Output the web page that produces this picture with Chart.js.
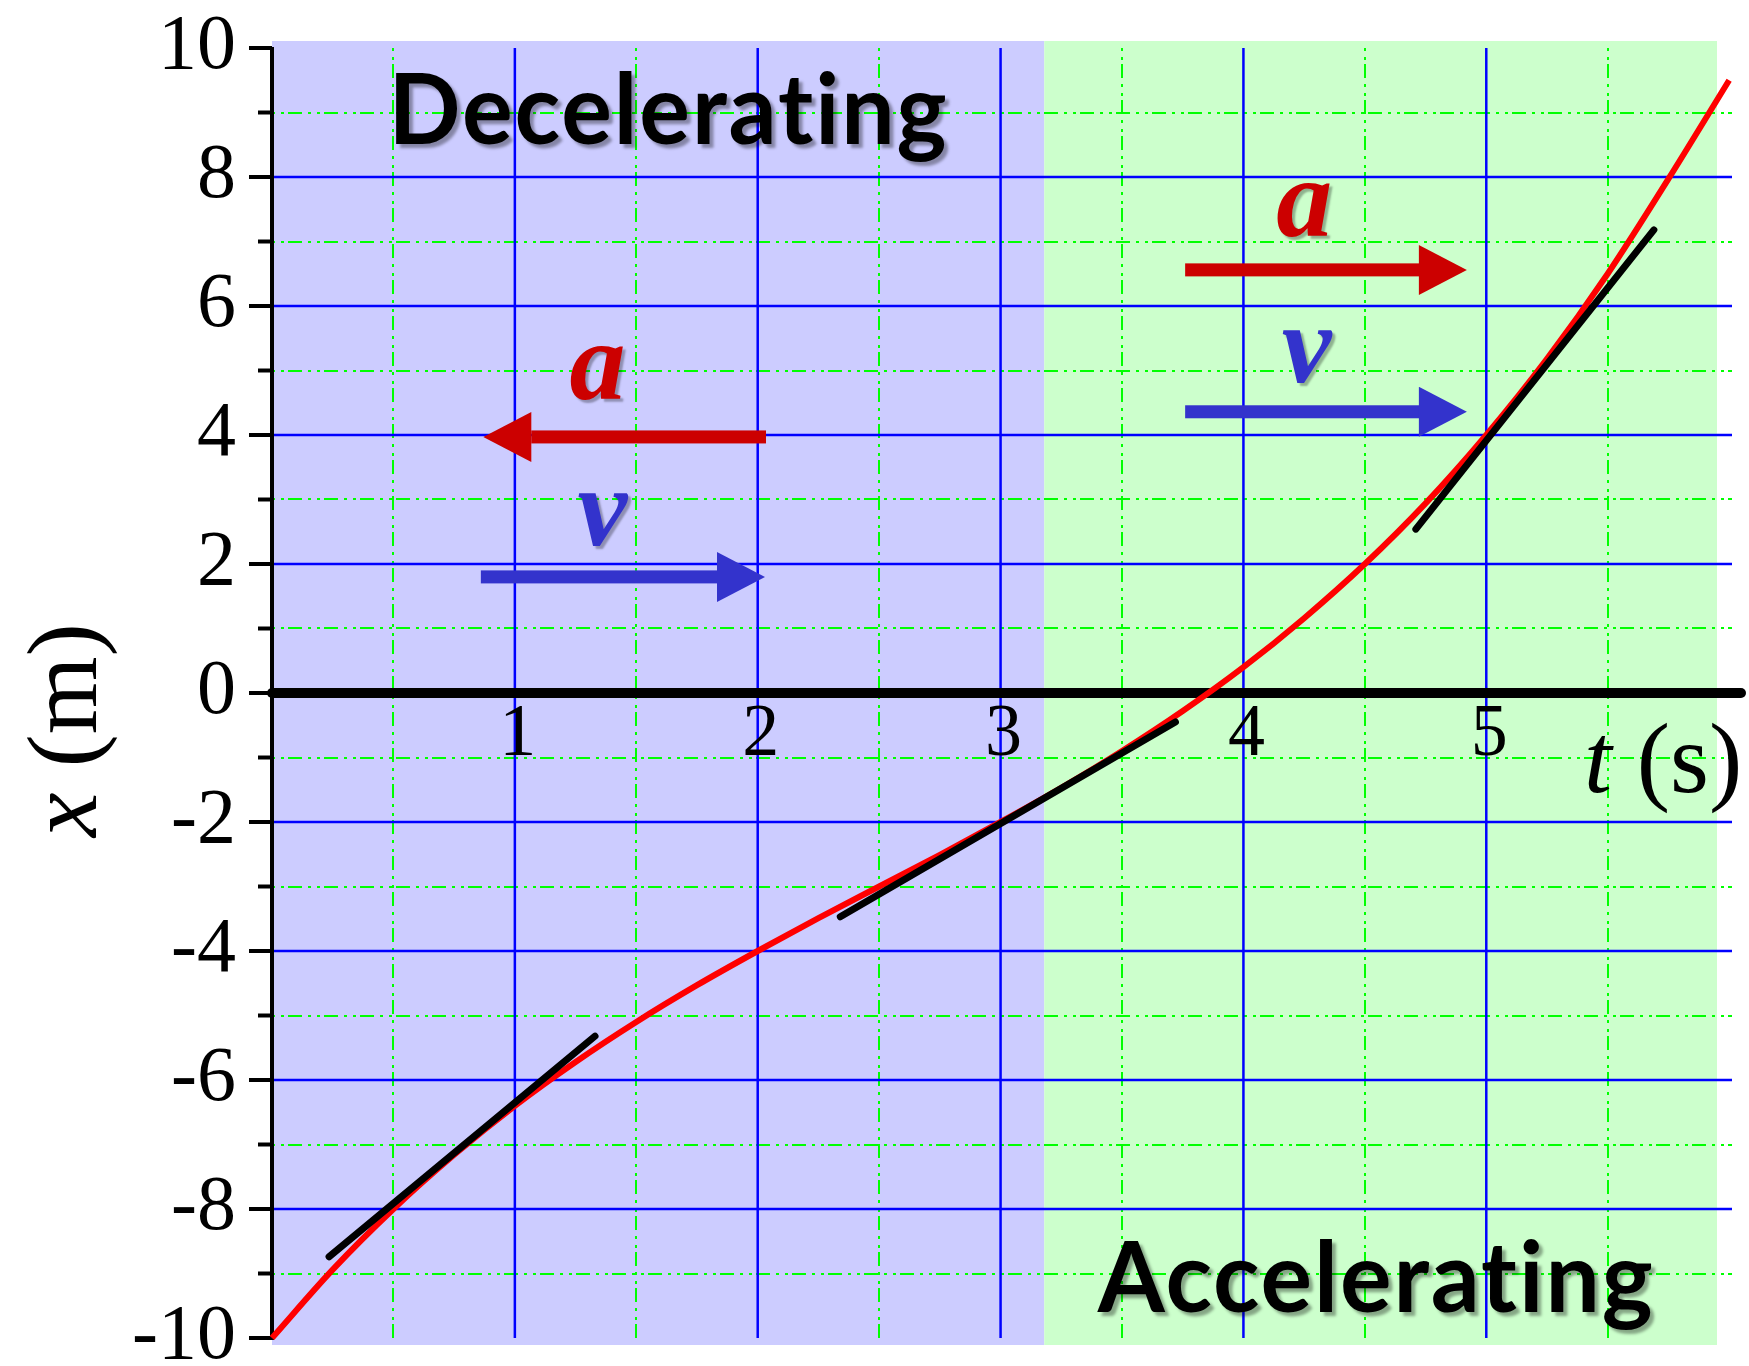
<!DOCTYPE html>
<html>
<head>
<meta charset="utf-8">
<title>Position vs time</title>
<script src="https://cdn.jsdelivr.net/npm/chart.js@4.4.1/dist/chart.umd.min.js"></script>
<style>
  html, body { margin: 0; padding: 0; background: #fff; }
  #wrap { width: 1749px; height: 1366px; }
</style>
</head>
<body>
<div id="wrap"><canvas id="xtChart" width="1749" height="1366"></canvas></div>
<script>
// x(t) curve, values
const times = [0, 0.25, 0.5, 0.75, 1, 1.25, 1.5, 1.75, 2, 2.25, 2.5, 2.75, 3,
               3.25, 3.5, 3.75, 4, 4.25, 4.5, 4.75, 5, 5.25, 5.5, 5.75, 6];
const positions = [-10, -8.94, -8.0, -7.16, -6.4, -5.72, -5.1, -4.53, -4.0, -3.49, -3.0, -2.51, -2.0,
                   -1.47, -0.9, -0.28, 0.4, 1.16, 2.0, 2.94, 4.0, 5.18, 6.5, 7.97, 9.5];

// tangent segments (t and x of both ends)
const tangent1T = [0.235, 1.33];
const tangent1X = [-8.74, -5.32];
const tangent2T = [2.34, 3.72];
const tangent2X = [-3.47, -0.45];
const tangent3T = [4.71, 5.69];
const tangent3X = [2.54, 7.18];

// axes
const yTicks = [-10, -8, -6, -4, -2, 0, 2, 4, 6, 8, 10];
const yMinorTicks = [-9, -7, -5, -3, -1, 1, 3, 5, 7, 9];
const xTicks = [1, 2, 3, 4, 5];
const xTickLabels = ['1', '2', '3', '4', '5'];
const xMinorTicks = [0.5, 1.5, 2.5, 3.5, 4.5, 5.5];
const regionSplit = 3.18; // where decelerating turns to accelerating

const serif = '"Liberation Serif", "Times New Roman", serif';

// annotation layout, in data units
const arrows = [
  { from: [2.03, 3.97], to: [0.87, 3.97], color: '#cc0000' },
  { from: [0.86, 1.80], to: [2.03, 1.80], color: '#3333cc' },
  { from: [3.76, 6.56], to: [4.92, 6.56], color: '#cc0000' },
  { from: [3.76, 4.36], to: [4.92, 4.36], color: '#3333cc' }
];
const arrowLabels = [
  { text: 'a', t: 1.34, x: 4.56, color: '#cc0000' },
  { text: 'v', t: 1.36, x: 2.29, color: '#3333cc' },
  { text: 'a', t: 4.25, x: 7.09, color: '#cc0000' },
  { text: 'v', t: 4.26, x: 4.82, color: '#3333cc' }
];
const regionLabels = [
  { text: 'Decelerating', t: 0.48, x: 8.51, width: 560 },
  { text: 'Accelerating', t: 3.40, x: -9.60, width: 557 }
];

function line(ctx, x1, y1, x2, y2) {
  ctx.beginPath();
  ctx.moveTo(x1, y1);
  ctx.lineTo(x2, y2);
  ctx.stroke();
}

function drawArrow(ctx, x1, y1, x2, y2, color) {
  const dir = Math.sign(x2 - x1);
  const head = 48;
  ctx.fillStyle = color;
  ctx.fillRect(Math.min(x1, x2 - dir * head), y1 - 6.5, Math.abs(x2 - x1) - head + 1, 13);
  ctx.beginPath();
  ctx.moveTo(x2, y2);
  ctx.lineTo(x2 - dir * head, y2 - 25);
  ctx.lineTo(x2 - dir * head, y2 + 25);
  ctx.closePath();
  ctx.fill();
}

const backdropPlugin = {
  id: 'backdrop',
  beforeDatasetsDraw(chart) {
    const { ctx, chartArea: area, scales: { x, y } } = chart;
    const split = x.getPixelForValue(regionSplit);
    ctx.save();
    ctx.fillStyle = '#ccccff';
    ctx.fillRect(area.left, area.top - 7, split - area.left, area.height + 14);
    ctx.fillStyle = '#ccffcc';
    ctx.fillRect(split, area.top - 7, area.right - split, area.height + 14);

    // minor grid: green dash-dot
    ctx.lineWidth = 2;
    ctx.strokeStyle = '#00ff00';
    ctx.setLineDash([3, 6, 3, 4, 14, 6]);
    xMinorTicks.forEach(v => {
      const px = Math.round(x.getPixelForValue(v));
      line(ctx, px, area.top, px, area.bottom);
    });
    yMinorTicks.forEach(v => {
      const py = Math.round(y.getPixelForValue(v));
      line(ctx, area.left, py, area.right + 15, py);
    });

    // major grid: blue
    ctx.setLineDash([]);
    ctx.lineWidth = 2.5;
    ctx.strokeStyle = '#0000ff';
    xTicks.forEach(v => {
      const px = x.getPixelForValue(v);
      line(ctx, px, area.top, px, area.bottom);
    });
    yTicks.filter(v => v !== 0 && Math.abs(v) !== 10).forEach(v => {
      const py = y.getPixelForValue(v);
      line(ctx, area.left, py, area.right + 15, py);
    });

    // y axis with tick marks
    ctx.strokeStyle = '#000';
    ctx.lineWidth = 4;
    line(ctx, area.left, area.top - 1, area.left, area.bottom + 2);
    yTicks.forEach(v => {
      const py = y.getPixelForValue(v);
      line(ctx, area.left - 23, py, area.left, py);
    });
    yMinorTicks.forEach(v => {
      const py = y.getPixelForValue(v);
      line(ctx, area.left - 14, py, area.left, py);
    });

    // thick t axis at x = 0
    const y0 = y.getPixelForValue(0);
    ctx.lineWidth = 10;
    ctx.lineCap = 'round';
    line(ctx, area.left, y0, chart.width - 8, y0);
    ctx.restore();
  },
  afterDatasetsDraw(chart) {
    const { ctx, scales: { x, y } } = chart;
    const y0 = y.getPixelForValue(0);
    ctx.save();

    // t tick labels under the axis line
    ctx.fillStyle = '#000';
    ctx.font = `74px ${serif}`;
    ctx.textAlign = 'center';
    ctx.textBaseline = 'middle';
    xTicks.forEach((v, i) => {
      ctx.fillText(xTickLabels[i], x.getPixelForValue(v) + 3, y0 + 43);
    });

    // axis titles
    ctx.textAlign = 'left';
    ctx.textBaseline = 'alphabetic';
    ctx.font = `italic 100px ${serif}`;
    const tW = ctx.measureText('t').width;
    ctx.fillText('t', 1584, 792);
    ctx.font = `100px ${serif}`;
    ctx.fillText(' (s)', 1584 + tW, 792);

    ctx.save();
    ctx.translate(96, 730);
    ctx.rotate(-Math.PI / 2);
    ctx.font = `italic 100px ${serif}`;
    const xW = ctx.measureText('x').width;
    ctx.font = `100px ${serif}`;
    const restW = ctx.measureText(' (m)').width;
    const start = -(xW + restW) / 2;
    ctx.font = `italic 100px ${serif}`;
    ctx.fillText('x', start, 0);
    ctx.font = `100px ${serif}`;
    ctx.fillText(' (m)', start + xW, 0);
    ctx.restore();

    // arrows
    arrows.forEach(a => {
      drawArrow(ctx, x.getPixelForValue(a.from[0]), y.getPixelForValue(a.from[1]),
        x.getPixelForValue(a.to[0]), y.getPixelForValue(a.to[1]), a.color);
    });

    // a / v labels
    ctx.textAlign = 'center';
    ctx.font = `bold italic 112px ${serif}`;
    ctx.shadowColor = 'rgba(0, 0, 0, 0.3)';
    ctx.shadowOffsetX = 3;
    ctx.shadowOffsetY = 3;
    ctx.shadowBlur = 2;
    arrowLabels.forEach(l => {
      ctx.fillStyle = l.color;
      ctx.fillText(l.text, x.getPixelForValue(l.t), y.getPixelForValue(l.x));
    });

    // region labels (letter spacing keeps "ti" from turning into a ligature)
    ctx.textAlign = 'left';
    ctx.fillStyle = '#000';
    ctx.shadowColor = 'rgba(0, 0, 0, 0.35)';
    ctx.shadowOffsetX = 4;
    ctx.shadowOffsetY = 4;
    ctx.shadowBlur = 3;
    ctx.letterSpacing = '2px';
    regionLabels.forEach(l => {
      ctx.font = 'bold 98px Lato, "DejaVu Sans", sans-serif';
      const w = ctx.measureText(l.text).width;
      ctx.save();
      ctx.translate(x.getPixelForValue(l.t), y.getPixelForValue(l.x));
      ctx.scale(l.width / w, 1);
      ctx.fillText(l.text, 0, 0);
      ctx.restore();
    });
    ctx.restore();
  }
};

const toPoints = (ts, xs) => ts.map((t, i) => ({ x: t, y: xs[i] }));
const tangentStyle = {
  borderColor: '#000',
  borderWidth: 7,
  borderCapStyle: 'round',
  pointRadius: 0,
  order: 0
};

new Chart(document.getElementById('xtChart'), {
  type: 'line',
  data: {
    datasets: [
      {
        label: 'x(t)',
        data: toPoints(times, positions),
        borderColor: '#ff0000',
        borderWidth: 6,
        pointRadius: 0,
        cubicInterpolationMode: 'monotone',
        clip: false,
        order: 1
      },
      { label: 'tangent 1', data: toPoints(tangent1T, tangent1X), ...tangentStyle },
      { label: 'tangent 2', data: toPoints(tangent2T, tangent2X), ...tangentStyle },
      { label: 'tangent 3', data: toPoints(tangent3T, tangent3X), ...tangentStyle }
    ]
  },
  options: {
    responsive: false,
    animation: false,
    devicePixelRatio: 1,
    layout: { padding: { left: 0, top: 48, right: 32, bottom: 28 } },
    plugins: {
      legend: { display: false },
      tooltip: { enabled: false }
    },
    scales: {
      x: { type: 'linear', min: 0, max: 5.95, display: false },
      y: {
        type: 'linear',
        min: -10,
        max: 10,
        afterBuildTicks: s => { s.ticks = yTicks.map(v => ({ value: v })); },
        afterFit: s => {
          s.width = 272;
          s.paddingTop = 0;
          s.paddingBottom = 0;
        },
        grid: { display: false, drawTicks: false },
        border: { display: false },
        ticks: {
          font: { family: serif, size: 78, lineHeight: 0.6 },
          color: '#000',
          padding: 36,
          autoSkip: false,
          callback: v => String(v)
        }
      }
    }
  },
  plugins: [backdropPlugin]
});
</script>
</body>
</html>
